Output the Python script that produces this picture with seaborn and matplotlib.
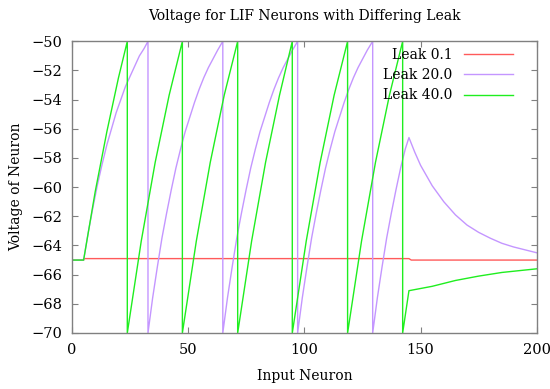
import matplotlib
matplotlib.use("Agg")
import matplotlib.pyplot as plt
import seaborn as sns

# Leak 0.1
red_x = [0, 5, 5, 145, 146, 200]
red_v = [-65.0, -65.0, -64.9, -64.9, -65.0, -65.0]

# Leak 20.0
purple_x = [0, 5, 7, 9, 11, 13, 15, 17, 19, 21, 23, 25, 27, 29, 31, 32.7,
            32.7, 34.7, 36.7, 38.7, 40.7, 42.7, 44.7, 46.7, 48.7, 50.7, 52.7, 54.7, 56.7, 58.7, 60.7, 62.7, 64.9,
            64.9, 66.9, 68.9, 70.9, 72.9, 74.9, 76.9, 78.9, 80.9, 82.9, 84.9, 86.9, 88.9, 90.9, 92.9, 94.9, 97.1,
            97.1, 99.1, 101.1, 103.1, 105.1, 107.1, 109.1, 111.1, 113.1, 115.1, 117.1, 119.1, 121.1, 123.1, 125.1, 127.1, 129.4,
            129.4, 131.4, 133.4, 135.4, 137.4, 139.4, 141.4, 143.4, 145,
            147.5, 150, 155, 160, 165, 170, 175, 180, 185, 190, 195, 200]
purple_v = [-65.0, -65.0, -63.1, -61.4, -59.8, -58.4, -57.1, -56.0, -54.9, -54.0, -53.1, -52.4, -51.7, -51.0, -50.5, -50.0,
            -70.0, -67.6, -65.5, -63.5, -61.8, -60.2, -58.7, -57.4, -56.2, -55.2, -54.2, -53.3, -52.5, -51.8, -51.2, -50.6, -50.0,
            -70.0, -67.6, -65.5, -63.5, -61.8, -60.2, -58.7, -57.4, -56.2, -55.2, -54.2, -53.3, -52.5, -51.8, -51.2, -50.6, -50.0,
            -70.0, -67.6, -65.5, -63.5, -61.8, -60.2, -58.7, -57.4, -56.2, -55.2, -54.2, -53.3, -52.5, -51.8, -51.2, -50.6, -50.0,
            -70.0, -67.6, -65.5, -63.5, -61.8, -60.2, -58.7, -57.4, -56.6,
            -57.6, -58.5, -59.9, -61.0, -61.9, -62.6, -63.1, -63.5, -63.85, -64.1, -64.3, -64.5]

# Leak 40.0
green_x = [0, 5, 10, 15, 20, 23.8,
           23.8, 29.8, 35.8, 41.8, 47.5,
           47.5, 53.5, 59.5, 65.5, 71.3,
           71.3, 77.3, 83.3, 89.3, 94.8,
           94.8, 100.8, 106.8, 112.8, 118.6,
           118.6, 124.6, 130.6, 136.6, 142.3,
           142.3, 145, 155, 165, 175, 185, 200]
green_v = [-65.0, -65.0, -60.3, -56.2, -52.5, -50.0,
           -70.0, -63.7, -58.3, -53.7, -50.0,
           -70.0, -63.7, -58.3, -53.7, -50.0,
           -70.0, -63.7, -58.3, -53.7, -50.0,
           -70.0, -63.7, -58.3, -53.7, -50.0,
           -70.0, -63.7, -58.3, -53.7, -50.0,
           -70.0, -67.1, -66.8, -66.4, -66.1, -65.85, -65.6]

x_ticks = [0, 50, 100, 150, 200]
y_ticks = list(range(-70, -49, 2))

plt.rcParams["font.family"] = ["DejaVu Serif"]
plt.rcParams["font.size"] = 10

fig = plt.figure(figsize=(5.5, 3.89), dpi=100)
ax = fig.add_axes([0.1309, 0.144, 0.845, 0.7498])

sns.lineplot(x=red_x, y=red_v, sort=False, estimator=None, color="#ff5a5a", lw=1.0, label="Leak 0.1", ax=ax)
sns.lineplot(x=purple_x, y=purple_v, sort=False, estimator=None, color="#c496ff", lw=1.0, label="Leak 20.0", ax=ax)
sns.lineplot(x=green_x, y=green_v, sort=False, estimator=None, color="#1fee1f", lw=1.0, label="Leak 40.0", ax=ax)

ax.set_xlim(0, 200)
ax.set_ylim(-70, -50)
ax.set_xticks(x_ticks)
ax.set_yticks(y_ticks)
ax.tick_params(direction="in", length=4.5, width=0.8, color="#808080",
               top=True, right=True, pad=7, labelsize=10.5)
for s in ax.spines.values():
    s.set_color("#808080")
    s.set_linewidth(1.0)

ax.set_title("Voltage for LIF Neurons with Differing Leak", pad=15, fontsize=10)
ax.set_xlabel("Input Neuron", labelpad=9, fontsize=10)
ax.set_ylabel("Voltage of Neuron", labelpad=6, fontsize=10)

leg = ax.legend(loc="upper right", bbox_to_anchor=(0.955, 0.987), frameon=False,
                markerfirst=False, handlelength=3.5, handletextpad=0.85,
                labelspacing=0.45, borderaxespad=0, borderpad=0.2, fontsize=10)
for col in leg._legend_handle_box.get_children():
    col.align = "right"

fig.savefig("out.png", dpi=100)
